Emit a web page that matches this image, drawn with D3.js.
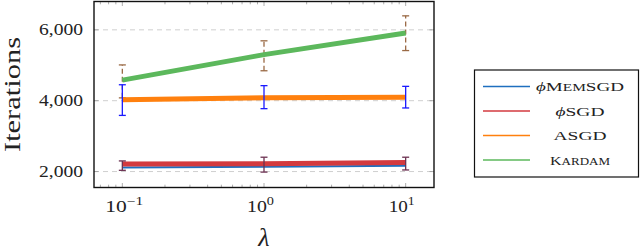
<!DOCTYPE html>
<html>
<head>
<meta charset="utf-8">
<script src="https://cdn.jsdelivr.net/npm/d3@7"></script>
<style>
  body { margin: 0; background: #fff; }
  svg { display: block; }
</style>
</head>
<body>
<svg id="chart" width="640" height="251" font-family="Liberation Serif"></svg>
<script>
// Data.
var lambdas = [0.1, 1, 10];
var memsgd = [2115, 2135, 2165];
var phisgd = [2210, 2220, 2255];
var asgd = [4030, 4080, 4100];
var kardam = [4580, 5300, 5910];

// error bars: [low, high] at each lambda
var asgdErr = [[3585, 4450], [3775, 4425], [3795, 4405]];
var phisgdErr = [[2035, 2300], [1985, 2405], [2045, 2405]];
var kardamErr = [[4080, 5010], [4845, 5690], [5415, 6395]];

var yTicks = [2000, 4000, 6000];
var xTicks = [0.1, 1, 10];

var series = [
  { name: 'ϕMemSGD', values: memsgd, color: '#1f6fbf', width: 2 },
  { name: 'ϕSGD', values: phisgd, color: '#d33a3f', width: 5 },
  { name: 'ASGD', values: asgd, color: '#ff800e', width: 5 },
  { name: 'Kardam', values: kardam, color: '#5cb85c', width: 5 }
];

var margin = { left: 94, top: 1.5, right: 434, bottom: 187.5 };

var svg = d3.select('#chart');

var x = d3.scaleLog().domain([Math.pow(10, -1.2), Math.pow(10, 1.2)])
  .range([margin.left, margin.right]);
var y = d3.scaleLinear().domain([1550, 6800])
  .range([margin.bottom, margin.top]);

// grid
svg.selectAll('.grid').data(yTicks).enter().append('line')
  .attr('x1', margin.left).attr('x2', margin.right)
  .attr('y1', function(d){ return y(d); }).attr('y2', function(d){ return y(d); })
  .attr('stroke', '#cfcfcf').attr('stroke-width', 1)
  .attr('stroke-dasharray', '5,4');

// minor + major x ticks (top and bottom, inside)
var minor = [];
for (var e = -2; e <= 1; e++) {
  for (var k = 1; k <= 9; k++) {
    var v = k * Math.pow(10, e);
    if (x(v) > margin.left + 1 && x(v) < margin.right - 1) minor.push({ v: v, major: k === 1 });
  }
}
svg.selectAll('.xtb').data(minor).enter().append('line')
  .attr('x1', function(d){ return x(d.v); }).attr('x2', function(d){ return x(d.v); })
  .attr('y1', margin.bottom).attr('y2', function(d){ return margin.bottom - (d.major ? 4.5 : 2.8); })
  .attr('stroke', '#999').attr('stroke-width', 0.8);
svg.selectAll('.xtt').data(minor).enter().append('line')
  .attr('x1', function(d){ return x(d.v); }).attr('x2', function(d){ return x(d.v); })
  .attr('y1', margin.top).attr('y2', function(d){ return margin.top + (d.major ? 4.5 : 2.8); })
  .attr('stroke', '#999').attr('stroke-width', 0.8);

// y ticks both sides
svg.selectAll('.ytl').data(yTicks).enter().append('line')
  .attr('x1', margin.left).attr('x2', margin.left + 4.5)
  .attr('y1', function(d){ return y(d); }).attr('y2', function(d){ return y(d); })
  .attr('stroke', '#999').attr('stroke-width', 0.8);
svg.selectAll('.ytr').data(yTicks).enter().append('line')
  .attr('x1', margin.right).attr('x2', margin.right - 4.5)
  .attr('y1', function(d){ return y(d); }).attr('y2', function(d){ return y(d); })
  .attr('stroke', '#999').attr('stroke-width', 0.8);

// error bars
var drawErr = function(errs, color, dash) {
  var g = svg.append('g').attr('stroke', color).attr('stroke-width', 1.3).attr('fill', 'none');
  errs.forEach(function(r, i) {
    var cx = x(lambdas[i]);
    g.append('line').attr('x1', cx).attr('x2', cx)
      .attr('y1', y(r[0])).attr('y2', y(r[1]))
      .attr('stroke-dasharray', dash ? '5,3' : null);
    g.append('line').attr('x1', cx - 3.5).attr('x2', cx + 3.5)
      .attr('y1', y(r[0])).attr('y2', y(r[0]));
    g.append('line').attr('x1', cx - 3.5).attr('x2', cx + 3.5)
      .attr('y1', y(r[1])).attr('y2', y(r[1]));
  });
};

// lines
var line = d3.line()
  .x(function(d, i){ return x(lambdas[i]); })
  .y(function(d){ return y(d); });

drawErr(kardamErr, '#9a6a45', true);
series.forEach(function(s) {
  svg.append('path').datum(s.values)
    .attr('d', line)
    .attr('fill', 'none')
    .attr('stroke', s.color)
    .attr('stroke-width', s.width);
});
drawErr(asgdErr, '#1a1aff', false);
drawErr(phisgdErr, '#6b3050', false);

// frame
svg.append('rect')
  .attr('x', margin.left).attr('y', margin.top)
  .attr('width', margin.right - margin.left).attr('height', margin.bottom - margin.top)
  .attr('fill', 'none').attr('stroke', '#111').attr('stroke-width', 1.4);

// y tick labels
svg.selectAll('.ylab').data(yTicks).enter().append('text')
  .attr('x', 83).attr('y', function(d){ return y(d) + 5.5; })
  .attr('text-anchor', 'end').attr('font-size', 16).attr('fill', '#222')
  .attr('textLength', 44).attr('lengthAdjust', 'spacingAndGlyphs')
  .text(function(d){ return d3.format(',')(d); });

// x tick labels 10^k
var xLabW = [38, 27, 26];
var xl = svg.selectAll('.xlab').data(xTicks).enter().append('text')
  .attr('x', function(d, i){ return x(d) - 17 + xLabW[i] / 2; }).attr('y', 211.5)
  .attr('text-anchor', 'middle').attr('font-size', 16).attr('fill', '#222')
  .attr('textLength', function(d, i){ return xLabW[i]; }).attr('lengthAdjust', 'spacingAndGlyphs');
xl.append('tspan').text('10');
xl.append('tspan').attr('dy', -6.5).attr('font-size', 11.5)
  .text(function(d){ return String(Math.round(Math.log10(d))).replace('-', '−'); });

// axis titles
svg.append('text')
  .attr('transform', 'translate(' + 20 + ',' + 94.5 + ') rotate(-90)')
  .attr('text-anchor', 'middle').attr('font-size', 24).attr('fill', '#222')
  .attr('textLength', 115).attr('lengthAdjust', 'spacingAndGlyphs')
  .text('Iterations');
svg.append('text')
  .attr('x', x(1)).attr('y', 246)
  .attr('text-anchor', 'middle').attr('font-size', 26).attr('font-style', 'italic').attr('fill', '#222')
  .text('λ');

// legend
var lg = svg.append('g');
lg.append('rect').attr('x', 474.5).attr('y', 70).attr('width', 164).attr('height', 107)
  .attr('fill', '#fff').attr('stroke', '#111').attr('stroke-width', 1.2);
var legendLabels = [
  [['ϕ', 'n'], ['M', 'n'], ['EM', 's'], ['SGD', 'n']],
  [['ϕ', 'n'], ['SGD', 'n']],
  [['ASGD', 'n']],
  [['K', 'n'], ['ARDAM', 's']]
];
var legendW = [88, 49, 53, 60];
series.forEach(function(s, i) {
  var ly = 86.5 + i * 24.5;
  lg.append('line').attr('x1', 483).attr('x2', 530).attr('y1', ly).attr('y2', ly)
    .attr('stroke', s.color).attr('stroke-width', 1.6);
  var t = lg.append('text').attr('x', 580).attr('y', ly + 4.5)
    .attr('text-anchor', 'middle').attr('font-size', 13).attr('fill', '#222')
    .attr('textLength', legendW[i]).attr('lengthAdjust', 'spacingAndGlyphs');
  legendLabels[i].forEach(function(p) {
    var ts = t.append('tspan').text(p[0]);
    if (p[1] === 's') ts.attr('font-size', 10.5);
    if (p[0] === 'ϕ') ts.attr('font-style', 'italic');
  });
});
</script>
</body>
</html>
